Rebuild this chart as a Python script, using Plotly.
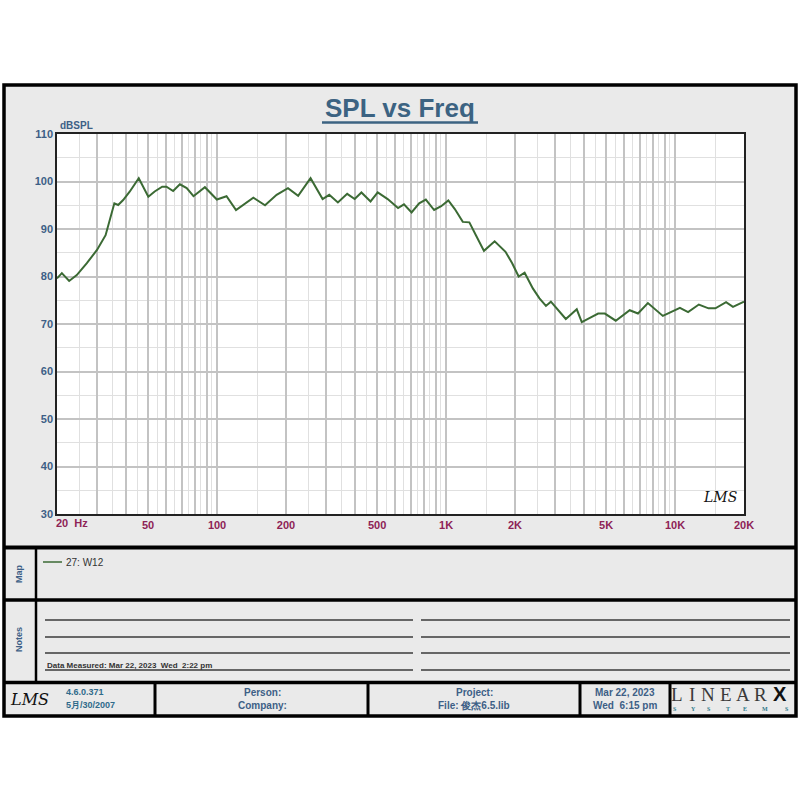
import plotly.graph_objects as go

# ---------------- data ----------------
freq_hz = [20, 21, 22.6, 24.4, 27, 29.9, 32.6, 34.1, 35.6, 37, 38.9, 41.6, 45.5, 50.1,
           53.4, 57.6, 60.1, 64.3, 68.8, 73.7, 78.9, 88.5, 99.8, 110, 121, 144, 162, 182,
           204, 226, 256, 289, 309, 337, 370, 399, 427, 468, 503, 556, 617, 655, 707, 763,
           816, 887, 952, 1023, 1092, 1183, 1264, 1350, 1464, 1630, 1818, 1944, 2075, 2203,
           2393, 2558, 2730, 2869, 3096, 3334, 3722, 3914, 4247, 4614, 4937, 5508, 6338,
           6887, 7609, 8844, 10500, 11400, 12700, 14000, 15000, 16700, 17900, 20000]
spl_db = [79.6, 80.7, 79.05, 80.3, 82.8, 85.6, 88.7, 91.9, 95.4, 95.05, 96.1, 97.9, 100.7, 96.8,
          97.9, 98.9, 98.9, 98.0, 99.4, 98.6, 96.9, 98.8, 96.2, 96.9, 94.0, 96.6, 95.0, 97.2,
          98.6, 97.0, 100.7, 96.3, 97.2, 95.6, 97.4, 96.3, 97.7, 95.8, 97.7, 96.3, 94.4, 95.2, 93.5, 95.4,
          96.2, 94.0, 94.8, 96.0, 94.2, 91.5, 91.4, 88.7, 85.4, 87.4, 85.2, 82.8, 80.0, 80.8,
          77.5, 75.4, 73.8, 74.7, 72.9, 71.05, 73.1, 70.4, 71.3, 72.2, 72.2, 70.7, 72.9,
          72.2, 74.4, 71.7, 73.4, 72.5, 74.1, 73.3, 73.3, 74.6, 73.6, 74.7]
series_name = "27: W12"

x_major = [20, 30, 40, 50, 60, 70, 80, 90, 100, 200, 300, 400, 500, 600, 700, 800, 900,
           1000, 2000, 3000, 4000, 5000, 6000, 7000, 8000, 9000, 10000, 20000]
x_labels = {50: "50", 100: "100", 200: "200", 500: "500", 1000: "1K", 2000: "2K",
            5000: "5K", 10000: "10K", 20000: "20K"}
x_minor = [25, 35, 45, 55, 65, 75, 85, 95, 150, 250, 350, 450, 550, 650, 750, 850, 950,
           1500, 2500, 3500, 4500, 5500, 6500, 7500, 8500, 9500, 15000]
y_ticks = [30, 40, 50, 60, 70, 80, 90, 100, 110]

# ---------------- geometry helpers (pixel -> paper) ----------------
L, R, T, B = 57, 744, 134, 514
W, H = R - L, B - T
def px(x):
    return (x - L) / W
def py(y):
    return (B - y) / H

FONT = "Liberation Sans, Arial, sans-serif"
GREEN = "#3b6a34"
BLUE = "#3d5f86"
MAROON = "#8e2356"

fig = go.Figure()
fig.add_trace(go.Scatter(x=freq_hz, y=spl_db, mode="lines", name=series_name,
                         line=dict(color=GREEN, width=2), showlegend=False, hoverinfo="skip"))

shapes = []
def rect(x0, y0, x1, y1, fill, line_color=None, lw=0, layer="below"):
    shapes.append(dict(type="rect", xref="paper", yref="paper", x0=px(x0), x1=px(x1),
                       y0=py(y0), y1=py(y1), fillcolor=fill, layer=layer,
                       line=dict(color=line_color or fill, width=lw)))
def hline(x0, x1, y, color="black", lw=3):
    shapes.append(dict(type="line", xref="paper", yref="paper", x0=px(x0), x1=px(x1),
                       y0=py(y), y1=py(y), line=dict(color=color, width=lw), layer="above"))
def vline(x, y0, y1, color="black", lw=3):
    shapes.append(dict(type="line", xref="paper", yref="paper", x0=px(x), x1=px(x),
                       y0=py(y0), y1=py(y1), line=dict(color=color, width=lw), layer="above"))

# outer panel and white plot area
rect(4, 85, 796, 716, "#eaeaea")
rect(L, T, R, B, "white")
# outer border
shapes.append(dict(type="rect", xref="paper", yref="paper", x0=px(4), x1=px(796),
                   y0=py(85), y1=py(716), line=dict(color="black", width=3.5),
                   fillcolor="rgba(0,0,0,0)", layer="above"))
# section dividers
hline(4, 796, 547.5, lw=4)
hline(4, 796, 600, lw=3.5)
hline(4, 796, 682.5, lw=3.5)
vline(36, 547.5, 682.5, lw=2.5)
for xv in [155, 368, 580, 670]:
    vline(xv, 682.5, 716, lw=3)
# notes lines
for yv in [620, 637, 653, 670]:
    hline(45, 413, yv, color="#3a3a3a", lw=1.5)
    hline(421, 790, yv, color="#3a3a3a", lw=1.5)
# title underline
hline(322, 478, 122.5, color="#3c6382", lw=2.5)
# map legend sample
hline(43, 62, 562, color=GREEN, lw=1.5)

ann = []
def text(x, y, s, size=10, color="#222", anchor="center", bold=False, family=FONT, angle=0, italic=False):
    if bold:
        s = "<b>" + s + "</b>"
    if italic:
        s = "<i>" + s + "</i>"
    ann.append(dict(x=px(x), y=py(y), xref="paper", yref="paper", text=s, showarrow=False,
                    xanchor=anchor, yanchor="middle", textangle=angle,
                    font=dict(size=size, color=color, family=family)))

text(400, 108, "SPL vs Freq", size=26, color="#3c6382", bold=True)
text(58, 126, "dBSPL", size=10, color=BLUE, bold=True, anchor="left")
text(54, 523, "20  Hz", size=11, color=MAROON, bold=True, anchor="left")
text(720, 497, "LMS", size=14, color="#111", italic=True, family="DejaVu Serif, serif")
# map / notes
text(19, 574, "Map", size=9, color=BLUE, bold=True, angle=-90)
text(19, 640, "Notes", size=9, color=BLUE, bold=True, angle=-90)
text(64, 562, series_name, size=10, color="#333", anchor="left")
text(45, 665, "Data Measured: Mar 22, 2023  Wed  2:22 pm", size=8, color="#333", bold=True, anchor="left")
# footer
text(29, 699, "LMS", size=16, color="#111", italic=True, family="DejaVu Serif, serif")
text(64, 692, "4.6.0.371", size=9, color="#2f6b8a", bold=True, anchor="left")
text(64, 705, "5月/30/2007", size=9, color="#2f6b8a", bold=True, anchor="left")
text(262, 692, "Person:", size=10, color=BLUE, bold=True)
text(262, 705, "Company:", size=10, color=BLUE, bold=True)
text(474, 692, "Project:", size=10, color=BLUE, bold=True)
text(474, 705, "File: 俊杰6.5.lib", size=10, color=BLUE, bold=True)
text(625, 692, "Mar 22, 2023", size=10, color=BLUE, bold=True)
text(625, 705, "Wed  6:15 pm", size=10, color=BLUE, bold=True)
for ch, xc in zip("LINEAR", [677, 692, 708, 726, 743, 760]):
    text(xc, 694, ch, size=19, color="#3a3a3a", family="Liberation Serif, serif")
text(780, 694, "X", size=20, color="#111", bold=True, family="Liberation Sans, Arial")
for ch, xc in zip("SYSTEMS", [675, 693, 709, 728, 745, 765, 787]):
    text(xc, 709, ch, size=6, color="#2f7a8a", bold=True, family="Liberation Serif, serif")

fig.update_layout(
    width=800, height=800,
    margin=dict(l=L, r=800 - R, t=T, b=800 - B, pad=0),
    paper_bgcolor="white", plot_bgcolor="white",
    shapes=shapes, annotations=ann, showlegend=False,
    font=dict(family=FONT),
    xaxis=dict(type="log", range=[1.30103, 4.30103], tickmode="array",
               tickvals=x_major,
               ticktext=["<b>%s</b>" % x_labels[v] if v in x_labels else "" for v in x_major],
               tickfont=dict(size=11, color=MAROON, family=FONT), ticks="",
               showgrid=True, gridcolor="#c3c3c3", gridwidth=1.5,
               minor=dict(tickvals=x_minor, showgrid=True, gridcolor="#e0e0e0", gridwidth=1, ticks=""),
               showline=True, linecolor="#222", linewidth=1.5, mirror=True, zeroline=False),
    yaxis=dict(range=[30, 110], tickmode="array", tickvals=y_ticks,
               ticktext=["<b>%d</b>" % v for v in y_ticks],
               tickfont=dict(size=11, color=BLUE, family=FONT), ticks="",
               showgrid=True, gridcolor="#c3c3c3", gridwidth=1.5,
               minor=dict(dtick=5, showgrid=True, gridcolor="#e0e0e0", gridwidth=1, ticks=""),
               showline=True, linecolor="#222", linewidth=1.5, mirror=True, zeroline=False),
)
fig.write_html("out.html", config={"displayModeBar": False},
               post_script="document.body.style.margin='0';document.body.style.overflow='hidden';")
